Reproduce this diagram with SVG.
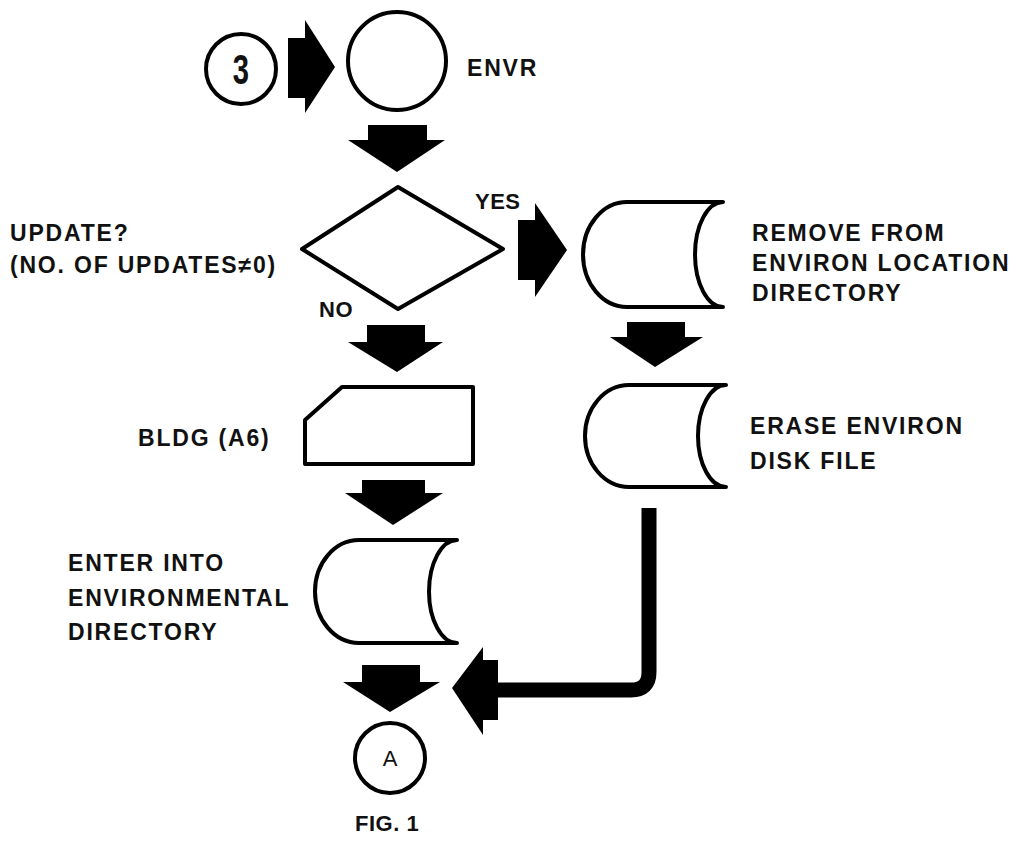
<svg xmlns="http://www.w3.org/2000/svg" width="1024" height="846" viewBox="0 0 1024 846">
<style>
.sh{fill:#fff;stroke:#000;stroke-width:4;stroke-linejoin:round}
.ar{fill:#000;stroke:none}
.t{font-family:"Liberation Sans",Arial,sans-serif;font-weight:bold;font-size:23px;letter-spacing:1.8px;fill:#111}
</style>
<rect width="1024" height="846" fill="#fff"/>
<g id="conn3">
<circle class="sh" cx="241" cy="69" r="35"/>
<text class="t" transform="translate(241,84) scale(0.68,1)" text-anchor="middle" style="font-size:43px;letter-spacing:0">3</text>
</g>
<g id="envr">
<circle class="sh" cx="397" cy="61" r="49"/>
<text class="t" x="467" y="76">ENVR</text>
</g>
<g id="update">
<polygon class="sh" points="398,187 503,249 398,309 302,249"/>
<text class="t" x="10" y="241">UPDATE?</text>
<text class="t" x="10" y="273">(NO. OF UPDATES≠0)</text>
<text class="t" x="475" y="209" style="letter-spacing:0.5px;font-size:22px">YES</text>
<text class="t" x="319" y="317" style="letter-spacing:0.5px;font-size:22px">NO</text>
</g>
<g id="remove">
<path class="sh" d="M723,202 H627 A44,52.5 0 0 0 627,307 H723 A28,52.5 0 0 1 723,202 Z"/>
<text class="t" x="752" y="241">REMOVE FROM</text>
<text class="t" x="752" y="271">ENVIRON LOCATION</text>
<text class="t" x="752" y="301">DIRECTORY</text>
</g>
<g id="erase">
<path class="sh" d="M726,385 H629 A44,51 0 0 0 629,487 H726 A28,51 0 0 1 726,385 Z"/>
<text class="t" x="750" y="434">ERASE ENVIRON</text>
<text class="t" x="750" y="469">DISK FILE</text>
</g>
<g id="bldg">
<polygon class="sh" points="342,387 473,387 473,464 305,464 305,420"/>
<text class="t" x="138" y="446">BLDG (A6)</text>
</g>
<g id="enter">
<path class="sh" d="M457,540 H359 A44,51.5 0 0 0 359,643 H457 A28,51.5 0 0 1 457,540 Z"/>
<text class="t" x="68" y="571">ENTER INTO</text>
<text class="t" x="68" y="606">ENVIRONMENTAL</text>
<text class="t" x="68" y="640">DIRECTORY</text>
</g>
<g id="connA">
<circle class="sh" cx="390" cy="758" r="35"/>
<text class="t" x="390" y="766" text-anchor="middle" style="font-weight:normal;letter-spacing:0;font-size:22px">A</text>
</g>
<text class="t" x="355" y="831" style="letter-spacing:0.5px;font-size:22px">FIG. 1</text>
<g id="connectors">
<polygon class="ar" points="288,38 305,38 305,20 335,67 305,113 305,98 288,98"/>
<polygon class="ar" points="368,125 427,125 427,140 445,140 397,172 348,140 368,140"/>
<polygon class="ar" points="518,220 535,220 535,203 567,250 535,297 535,280 518,280"/>
<polygon class="ar" points="367,325 425,325 425,342 443,342 397,372 348,342 367,342"/>
<polygon class="ar" points="627,322 685,322 685,337 703,337 655,367 610,337 627,337"/>
<polygon class="ar" points="362,480 425,480 425,493 443,493 393,525 345,493 362,493"/>
<polygon class="ar" points="362,665 420,665 420,682 440,682 390,712 343,682 362,682"/>
<path d="M649,508 V672 Q649,690 631,690 H495" fill="none" stroke="#000" stroke-width="15"/>
<polygon class="ar" points="498,660 498,720 483,720 483,735 452,688 483,647 483,660"/>
</g>
</svg>
